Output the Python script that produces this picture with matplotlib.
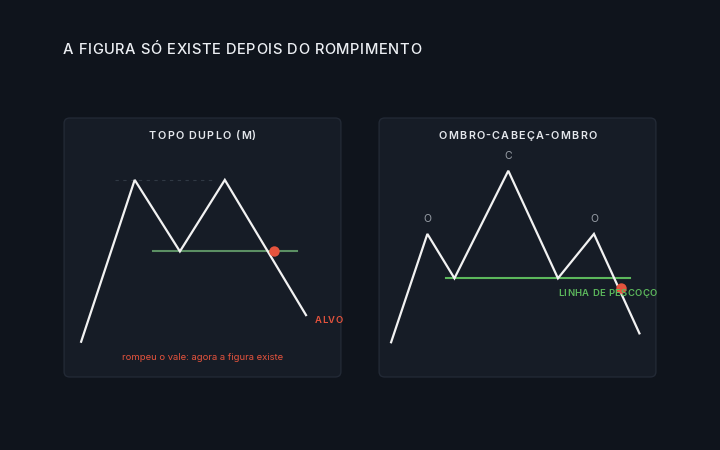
import matplotlib
matplotlib.use("Agg")
import matplotlib.pyplot as plt
from matplotlib.patches import FancyBboxPatch

# double top (M): time / price (panel % units)
dt_x = [6.5, 25.7, 41.9, 58.0, 87.1]
dt_y = [13.9, 75.9, 48.5, 75.9, 24.1]
dt_neck = 48.5
dt_neck_x = [32.4, 83.8]
dt_top_x = [18.6, 55.0]
dt_break = (75.7, 48.5)
dt_target = (90.3, 22.0)

# head and shoulders
hs_x = [4.7, 17.7, 27.4, 46.7, 64.5, 77.4, 93.7]
hs_y = [13.7, 55.2, 38.2, 79.4, 38.2, 55.2, 17.1]
hs_neck = 38.2
hs_neck_x = [24.3, 90.3]
hs_break = (87.1, 34.6)
hs_peaks = [1, 3, 5]
hs_labels = ["O", "C", "O"]

title = "A FIGURA SÓ EXISTE DEPOIS DO ROMPIMENTO"
panel_titles = ["TOPO DUPLO (M)", "OMBRO-CABEÇA-OMBRO"]

bg = "#0f141c"
panel_bg = "#161c26"
edge = "#222935"
white = "#f2f2f2"
red = "#e5533d"
green_dim = "#5b8f63"
green = "#5cb85c"
grey = "#9aa0a8"

plt.rcParams['font.family'] = ['Inter', 'DejaVu Sans']

fig = plt.figure(figsize=(7.2, 4.5), dpi=100)
fig.patch.set_facecolor(bg)
W, H = 720, 450


def text_width(s, **kw):
    # advance width of s in pixels, measured between two bars
    r = fig.canvas.get_renderer()
    t1 = fig.text(0, 0, "|" + s + "|", **kw)
    t2 = fig.text(0, 0, "||", **kw)
    w = t1.get_window_extent(r).width - t2.get_window_extent(r).width
    t1.remove()
    t2.remove()
    return w


def spaced_text(x_px, y_px, s, track, ha="left", **kw):
    # letter-spaced text, pixel coords from top-left
    total = text_width(s, **kw) + track * (len(s) - 1)
    if ha == "center":
        x_px -= total / 2
    for i, ch in enumerate(s):
        if ch == " ":
            continue
        off = text_width(s[:i], **kw) + track * i
        fig.text((x_px + off) / W, 1 - y_px / H, ch, ha="left", va="center", **kw)


spaced_text(63, 50, title, 0.6, color="#eceff3", fontsize=10.6, fontweight="medium")

axes = []
for x0 in [63, 378]:
    ax = fig.add_axes([x0 / W, 72 / H, 279 / W, 261 / H])
    ax.set_xlim(0, 100)
    ax.set_ylim(0, 100)
    ax.axis("off")
    box = FancyBboxPatch((0.004, 0.004), 0.992, 0.992,
                         boxstyle="round,pad=0,rounding_size=0.02",
                         transform=ax.transAxes, facecolor=panel_bg,
                         edgecolor=edge, linewidth=1.0, clip_on=False, zorder=0)
    ax.add_patch(box)
    axes.append(ax)

for cx, t in zip([202.5, 517.5], panel_titles):
    spaced_text(cx, 135.7, t, 1.25, ha="center", color="#e4e7ec", fontsize=7.8,
                fontweight="semibold", zorder=5)

# left: double top
ax = axes[0]
ax.plot(dt_top_x, [dt_y[1], dt_y[1]], color="#8090a0", alpha=0.25, lw=0.8,
        ls=(0, (3, 4)), zorder=1)
ax.plot(dt_neck_x, [dt_neck, dt_neck], color=green_dim, lw=1.5, zorder=2)
ax.plot(dt_x, dt_y, color=white, lw=1.6, zorder=3, solid_joinstyle="miter")
ax.plot(*dt_break, "o", color=red, ms=7.5, mec="none", zorder=4)
ax.text(50, 8.0, "rompeu o vale: agora a figura existe", color=red,
        fontsize=6.8, ha="center", va="center")

# right: head and shoulders
ax = axes[1]
ax.plot(hs_neck_x, [hs_neck, hs_neck], color=green, lw=1.5, zorder=2)
ax.plot(hs_x, hs_y, color=white, lw=1.6, zorder=3, solid_joinstyle="miter")
ax.plot(*hs_break, "o", color=red, ms=7.5, mec="none", zorder=4)
for i, lab in zip(hs_peaks, hs_labels):
    ax.annotate(lab, (hs_x[i], hs_y[i]), xytext=(0, 10.6),
                textcoords="offset points", color=grey, fontsize=7.5,
                ha="center", va="center")

# small tracked labels placed from panel data positions
fig.canvas.draw()
for ax, (px, py), s, col, tr in [
        (axes[0], dt_target, "ALVO", red, 0.5),
        (axes[1], (64.5, 32.2), "LINHA DE PESCOÇO", green, 0.4)]:
    dx, dy = ax.transData.transform((px, py))
    spaced_text(dx, H - dy, s, tr, color=col, fontsize=6.8,
                fontweight="semibold", zorder=5)

fig.savefig("out.png", dpi=100, facecolor=bg)
